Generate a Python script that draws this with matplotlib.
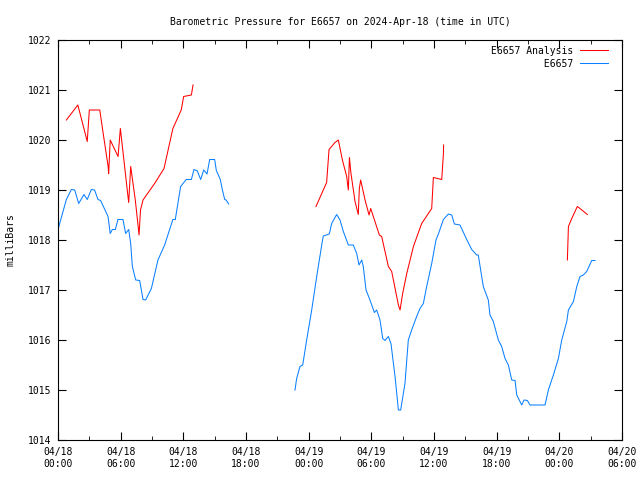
import numpy as np
import pandas as pd
import matplotlib
matplotlib.use("Agg")
import matplotlib.pyplot as plt
import matplotlib.dates as mdates

# hours after 2024-04-18 00:00 UTC, NaN breaks the line
analysis_h = [0.8, 1.9, 2.8, 3.0, 4.0, 4.37, 4.8, 4.85, 5.0, 5.75, 5.97, 6.38, 6.7, 6.77,
              6.96, 7.4, 7.66, 7.76, 7.9, 8.14, 9.25, 10.15, 11.0, 11.8, 12.03, 12.77, 12.93,
              np.nan,
              24.7, 25.72, 25.95, 26.52, 26.84, 27.23, 27.64, 27.8, 27.9, 28.05, 28.44, 28.75,
              28.85, 28.98, 29.4, 29.78, 29.94, 30.19, 30.77, 30.99, 31.63, 31.95, 32.59, 32.75,
              33.0, 33.39, 34.03, 34.82, 35.3, 35.78, 35.94, 36.74, 36.9, 36.92,
              np.nan,
              48.77, 48.87, 49.19, 49.72, 49.98, 50.68]
analysis_p = [1020.4, 1020.7, 1019.97, 1020.6, 1020.6, 1020.07, 1019.47, 1019.33, 1020.0,
              1019.67, 1020.23, 1019.47, 1018.87, 1018.75, 1019.47, 1018.8, 1018.3, 1018.1,
              1018.6, 1018.8, 1019.13, 1019.43, 1020.23, 1020.6, 1020.87, 1020.9, 1021.1,
              np.nan,
              1018.67, 1019.15, 1019.81, 1019.95, 1020.0, 1019.6, 1019.27, 1019.0, 1019.65,
              1019.33, 1018.77, 1018.51, 1019.03, 1019.2, 1018.8, 1018.5, 1018.63, 1018.47,
              1018.1, 1018.07, 1017.47, 1017.37, 1016.7, 1016.6, 1016.93, 1017.33, 1017.87,
              1018.33, 1018.48, 1018.63, 1019.25, 1019.21, 1019.72, 1019.9,
              np.nan,
              1017.6, 1018.27, 1018.43, 1018.67, 1018.63, 1018.51]

obs_h = [0.0, 0.8, 1.28, 1.6, 1.98, 2.49, 2.8, 3.19, 3.5, 3.83, 4.08, 4.79, 5.0, 5.2, 5.49,
         5.74, 6.22, 6.48, 6.77, 6.96, 7.12, 7.44, 7.82, 8.14, 8.39, 8.94, 9.57, 10.21, 11.0,
         11.23, 11.74, 12.28, 12.77, 13.02, 13.34, 13.66, 13.95, 14.27, 14.52, 15.0, 15.16,
         15.54, 15.73, 15.96, 16.1, 16.34,
         np.nan,
         22.69, 22.85, 23.17, 23.43, 23.81, 24.29, 24.77, 25.25, 25.4, 25.98, 26.2, 26.68,
         27.0, 27.32, 27.8, 28.27, 28.6, 28.82, 29.08, 29.23, 29.49, 29.87, 30.29, 30.51,
         30.83, 31.09, 31.31, 31.63, 31.88, 32.27, 32.59, 32.81, 33.22, 33.54, 33.86, 34.34,
         34.66, 34.98, 35.3, 35.78, 36.19, 36.42, 36.9, 37.38, 37.7, 37.95, 38.49, 39.13,
         39.61, 40.09, 40.24, 40.72, 41.2, 41.36, 41.68, 42.16, 42.48, 42.8, 43.12, 43.44,
         43.76, 43.92, 44.4, 44.62, 44.94, 45.19, 46.63, 46.95, 47.43, 47.91, 48.23, 48.71,
         48.87, 49.35, 49.67, 49.98, 50.3, 50.62, 51.1, 51.42]
obs_p = [1018.21, 1018.81, 1019.01, 1019.0, 1018.73, 1018.91, 1018.81, 1019.01, 1019.0,
         1018.81, 1018.79, 1018.47, 1018.13, 1018.21, 1018.21, 1018.41, 1018.41, 1018.13,
         1018.21, 1017.93, 1017.47, 1017.2, 1017.19, 1016.81, 1016.8, 1017.03, 1017.6, 1017.9,
         1018.41, 1018.41, 1019.07, 1019.21, 1019.21, 1019.41, 1019.38, 1019.21, 1019.4,
         1019.32, 1019.61, 1019.61, 1019.39, 1019.21, 1019.01, 1018.81, 1018.8, 1018.72,
         np.nan,
         1015.0, 1015.23, 1015.47, 1015.5, 1016.0, 1016.6, 1017.27, 1017.9, 1018.08, 1018.12,
         1018.33, 1018.51, 1018.4, 1018.17, 1017.9, 1017.9, 1017.73, 1017.5, 1017.6, 1017.47,
         1017.0, 1016.8, 1016.55, 1016.6, 1016.4, 1016.03, 1015.99, 1016.07, 1015.93, 1015.27,
         1014.6, 1014.6, 1015.13, 1016.0, 1016.2, 1016.47, 1016.63, 1016.73, 1017.07, 1017.53,
         1018.0, 1018.12, 1018.41, 1018.52, 1018.5, 1018.32, 1018.3, 1018.01, 1017.81, 1017.7,
         1017.7, 1017.07, 1016.8, 1016.5, 1016.37, 1016.0, 1015.87, 1015.63, 1015.5, 1015.2,
         1015.19, 1014.9, 1014.7, 1014.8, 1014.79, 1014.7, 1014.7, 1015.0, 1015.3, 1015.63,
         1016.0, 1016.37, 1016.6, 1016.77, 1017.07, 1017.27, 1017.3, 1017.37, 1017.59, 1017.59]

start = pd.Timestamp("2024-04-18 00:00")
analysis_t = start + pd.to_timedelta(analysis_h, unit="h")
obs_t = start + pd.to_timedelta(obs_h, unit="h")

plt.rcParams["font.family"] = "DejaVu Sans Mono"
plt.rcParams["font.size"] = 7

fig = plt.figure(figsize=(6.4, 4.8), dpi=100)
ax = fig.add_axes([58 / 640, 40 / 480, 564 / 640, 400 / 480])

ax.plot(analysis_t, analysis_p, color="#ff0000", lw=0.75, label="E6657 Analysis")
ax.plot(obs_t, obs_p, color="#0a80ff", lw=0.75, label="         E6657")

ax.set_xlim(start, start + pd.Timedelta(hours=54))
ax.set_ylim(1014, 1022)
ax.set_yticks(range(1014, 1023))

ax.xaxis.set_major_locator(mdates.HourLocator(byhour=[0, 6, 12, 18]))
ax.xaxis.set_minor_locator(mdates.HourLocator(byhour=[3, 9, 15, 21]))
ax.xaxis.set_major_formatter(mdates.DateFormatter("%m/%d\n%H:%M"))

ax.tick_params(which="both", direction="in", top=True, right=True, labelsize=7, pad=5)
ax.tick_params(which="major", length=6)
ax.tick_params(which="minor", length=3)
for s in ax.spines.values():
    s.set_linewidth(0.8)

ax.set_title("Barometric Pressure for E6657 on 2024-Apr-18 (time in UTC)", fontsize=7, pad=10.5)
ax.set_ylabel("milliBars", fontsize=7, labelpad=9)

ax.legend(loc="upper right", bbox_to_anchor=(0.986, 1.0), frameon=False, markerfirst=False,
          fontsize=7, handlelength=2.9, handletextpad=0.7, labelspacing=0.3, borderaxespad=0.2)

fig.savefig("out.png", dpi=100)
